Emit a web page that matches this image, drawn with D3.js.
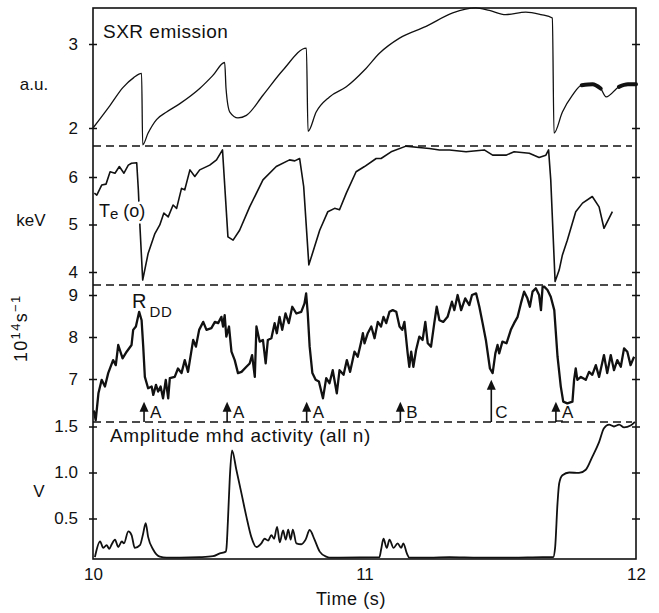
<!DOCTYPE html>
<html>
<head>
<meta charset="utf-8">
<script src="https://cdn.jsdelivr.net/npm/d3@7"></script>
<style>
  body { margin: 0; background: #fff; }
  svg text { font-family: "Liberation Sans", Arial, Helvetica, sans-serif; fill: #111; }
</style>
</head>
<body>
<svg id="chart" width="659" height="613"></svg>
<script>
"use strict";

// time axis
var timeTicks = [10, 11, 12];

// soft x-ray emission (a.u.)
var sxrTicks = [2, 3];
var sxr = [
  [10.000, 2.00], [10.063, 2.27], [10.110, 2.48], [10.150, 2.60], [10.179, 2.65],
  [10.183, 1.80], [10.203, 1.94], [10.234, 2.10], [10.271, 2.19], [10.320, 2.29],
  [10.393, 2.47], [10.440, 2.62], [10.485, 2.78], [10.490, 2.47], [10.504, 2.19],
  [10.534, 2.12], [10.565, 2.15], [10.626, 2.39], [10.700, 2.69], [10.786, 2.95],
  [10.792, 1.96], [10.822, 2.19], [10.871, 2.37], [10.933, 2.49], [11.000, 2.69],
  [11.055, 2.89], [11.129, 3.07], [11.227, 3.21], [11.325, 3.37], [11.410, 3.43],
  [11.460, 3.40], [11.520, 3.35], [11.594, 3.38], [11.650, 3.35], [11.692, 3.31],
  [11.698, 1.94], [11.729, 2.19], [11.766, 2.39], [11.800, 2.51], [11.840, 2.52],
  [11.870, 2.47], [11.890, 2.37], [11.937, 2.49], [11.970, 2.52], [12.000, 2.52]
];
// stretches where the SXR trace is a thick noisy band
var sxrBands = [[11.80, 11.87], [11.937, 12.0]];

// central electron temperature (keV)
var teTicks = [4, 5, 6];
var te = [
  [10.005, 5.66], [10.014, 5.62], [10.032, 5.83], [10.048, 5.85], [10.063, 6.11],
  [10.081, 6.08], [10.097, 6.22], [10.114, 6.08], [10.130, 6.25], [10.142, 6.29],
  [10.161, 6.30], [10.167, 5.73], [10.173, 4.95], [10.183, 3.83], [10.203, 4.39],
  [10.228, 4.81], [10.246, 4.99], [10.261, 5.24], [10.277, 5.16], [10.295, 5.41],
  [10.308, 5.34], [10.326, 5.76], [10.338, 5.73], [10.357, 6.15], [10.375, 6.01],
  [10.393, 6.15], [10.430, 6.25], [10.455, 6.36], [10.477, 6.57], [10.497, 4.74],
  [10.516, 4.67], [10.540, 4.88], [10.577, 5.37], [10.626, 5.94], [10.675, 6.22],
  [10.724, 6.36], [10.743, 6.34], [10.761, 6.39], [10.776, 5.80], [10.795, 4.15],
  [10.816, 4.53], [10.835, 4.88], [10.865, 5.27], [10.890, 5.34], [10.908, 5.31],
  [10.933, 5.66], [10.969, 6.11], [11.000, 6.22], [11.043, 6.39], [11.061, 6.39],
  [11.098, 6.53], [11.153, 6.65], [11.200, 6.62], [11.239, 6.60], [11.276, 6.57],
  [11.313, 6.57], [11.374, 6.53], [11.441, 6.57], [11.472, 6.46], [11.521, 6.46],
  [11.551, 6.53], [11.607, 6.50], [11.643, 6.41], [11.668, 6.46], [11.678, 6.57],
  [11.686, 5.94], [11.702, 3.80], [11.717, 4.04], [11.729, 4.36], [11.747, 4.67],
  [11.778, 5.27], [11.803, 5.45], [11.839, 5.59], [11.864, 5.37], [11.882, 4.92],
  [11.913, 5.27]
];

// D-D neutron rate (10^14 s^-1)
var rddTicks = [7, 8, 9];
var rdd = [
  [10.003, 6.25], [10.010, 6.02], [10.020, 6.66], [10.032, 6.98], [10.044, 6.82],
  [10.056, 7.14], [10.074, 7.45], [10.084, 7.33], [10.093, 7.81], [10.109, 7.49],
  [10.124, 7.65], [10.142, 7.81], [10.148, 8.17], [10.158, 8.25], [10.170, 8.60],
  [10.179, 8.40], [10.185, 7.77], [10.191, 7.05], [10.203, 6.78], [10.216, 6.82],
  [10.222, 6.62], [10.232, 6.86], [10.240, 6.70], [10.249, 6.82], [10.258, 6.54],
  [10.268, 6.98], [10.277, 6.54], [10.283, 7.02], [10.301, 7.05], [10.313, 7.25],
  [10.326, 7.14], [10.338, 7.45], [10.350, 7.17], [10.369, 7.93], [10.379, 7.77],
  [10.391, 8.17], [10.406, 8.36], [10.418, 8.17], [10.436, 8.21], [10.449, 8.36],
  [10.461, 8.33], [10.473, 8.48], [10.479, 8.25], [10.485, 8.52], [10.491, 8.01],
  [10.501, 8.25], [10.510, 7.65], [10.522, 7.45], [10.534, 7.14], [10.547, 7.17],
  [10.565, 7.29], [10.577, 7.37], [10.586, 7.57], [10.596, 7.05], [10.602, 8.25],
  [10.614, 7.89], [10.626, 7.93], [10.636, 7.37], [10.644, 7.93], [10.657, 7.97],
  [10.669, 8.33], [10.677, 8.09], [10.687, 8.48], [10.697, 8.17], [10.709, 8.56],
  [10.721, 8.33], [10.734, 8.72], [10.749, 8.56], [10.767, 8.60], [10.779, 8.80],
  [10.785, 9.04], [10.791, 8.56], [10.798, 7.77], [10.808, 7.14], [10.820, 6.98],
  [10.832, 6.94], [10.847, 6.54], [10.859, 7.02], [10.871, 6.90], [10.883, 7.21],
  [10.898, 6.66], [10.908, 7.21], [10.923, 7.10], [10.935, 7.45], [10.947, 7.17],
  [10.963, 7.65], [10.975, 7.53], [10.988, 7.89], [10.994, 8.09], [11.000, 7.85],
  [11.012, 8.09], [11.025, 8.25], [11.037, 7.97], [11.049, 8.36], [11.061, 8.25],
  [11.070, 8.48], [11.080, 8.33], [11.092, 8.60], [11.104, 8.64], [11.117, 8.60],
  [11.129, 8.25], [11.139, 8.17], [11.147, 8.36], [11.159, 7.61], [11.165, 7.29],
  [11.172, 7.65], [11.180, 7.29], [11.190, 7.69], [11.202, 8.01], [11.214, 7.93],
  [11.224, 8.36], [11.233, 7.85], [11.245, 7.77], [11.257, 8.33], [11.266, 8.72],
  [11.276, 8.40], [11.290, 8.36], [11.306, 8.48], [11.322, 8.84], [11.331, 8.64],
  [11.343, 9.00], [11.356, 8.64], [11.371, 8.92], [11.386, 8.76], [11.396, 9.00],
  [11.411, 9.04], [11.423, 8.72], [11.435, 8.33], [11.447, 7.93], [11.462, 7.25],
  [11.472, 7.14], [11.482, 7.61], [11.490, 7.81], [11.496, 7.61], [11.508, 7.89],
  [11.523, 7.85], [11.539, 8.17], [11.551, 8.33], [11.564, 8.48], [11.576, 8.80],
  [11.588, 9.08], [11.600, 8.92], [11.609, 8.72], [11.619, 9.08], [11.631, 9.16],
  [11.643, 9.00], [11.650, 8.64], [11.656, 9.20], [11.662, 9.20], [11.674, 9.12],
  [11.686, 8.96], [11.699, 8.64], [11.711, 7.53], [11.723, 6.82], [11.732, 6.46],
  [11.747, 6.42], [11.766, 6.46], [11.772, 6.98], [11.778, 7.25], [11.784, 6.98],
  [11.797, 7.05], [11.815, 6.98], [11.827, 7.17], [11.839, 7.10], [11.852, 7.33],
  [11.864, 7.05], [11.882, 7.57], [11.894, 7.14], [11.907, 7.57], [11.919, 7.21],
  [11.931, 7.45], [11.944, 7.29], [11.956, 7.73], [11.968, 7.65], [11.980, 7.33],
  [11.993, 7.53]
];

// events marked under the neutron trace
var eventTime  = [10.188, 10.494, 10.787, 11.132, 11.467, 11.705];
var eventLabel = ["A", "A", "A", "B", "C", "A"];
var eventTip   = [6.46, 6.46, 6.46, 6.46, 6.98, 6.46];

// mhd amplitude (V)
var mhdTicks = [0.5, 1.0, 1.5];
var mhd = [
  [10.007, 0.08], [10.026, 0.25], [10.038, 0.18], [10.050, 0.21], [10.060, 0.17],
  [10.069, 0.22], [10.081, 0.27], [10.093, 0.19], [10.106, 0.25], [10.114, 0.23],
  [10.130, 0.36], [10.142, 0.32], [10.154, 0.18], [10.173, 0.21], [10.185, 0.34],
  [10.194, 0.45], [10.203, 0.30], [10.222, 0.16], [10.246, 0.085], [10.271, 0.075],
  [10.320, 0.075], [10.393, 0.08], [10.442, 0.09], [10.467, 0.12], [10.489, 0.14],
  [10.492, 0.19], [10.497, 0.48], [10.504, 0.95], [10.512, 1.24], [10.528, 1.03],
  [10.547, 0.77], [10.565, 0.52], [10.583, 0.30], [10.602, 0.19], [10.620, 0.23],
  [10.632, 0.28], [10.645, 0.26], [10.657, 0.32], [10.667, 0.28], [10.678, 0.41],
  [10.688, 0.24], [10.700, 0.37], [10.710, 0.27], [10.719, 0.38], [10.728, 0.27],
  [10.736, 0.38], [10.749, 0.23], [10.767, 0.22], [10.783, 0.27], [10.798, 0.375],
  [10.816, 0.27], [10.835, 0.14], [10.859, 0.085], [10.871, 0.075], [11.055, 0.08],
  [11.061, 0.16], [11.070, 0.28], [11.082, 0.18], [11.092, 0.27], [11.107, 0.18],
  [11.122, 0.23], [11.135, 0.18], [11.143, 0.23], [11.156, 0.12], [11.165, 0.075],
  [11.239, 0.075], [11.313, 0.08], [11.423, 0.075], [11.545, 0.075], [11.656, 0.08],
  [11.695, 0.08], [11.702, 0.18], [11.711, 0.67], [11.717, 0.88], [11.729, 0.97],
  [11.754, 1.00], [11.790, 0.995], [11.815, 1.03], [11.839, 1.17], [11.864, 1.33],
  [11.882, 1.48], [11.901, 1.52], [11.919, 1.50], [11.938, 1.52], [11.956, 1.49],
  [11.980, 1.51], [11.996, 1.55]
];

var svg = d3.select("#chart");
var x = d3.scaleLinear().domain([10, 12]).range([93, 636]);

var panels = [
  { data: sxr, ticks: sxrTicks, fmt: d3.format("d"), y0: 8, y1: 146, w: 1.3,
    curve: d3.curveMonotoneX, y: d3.scaleLinear().domain([2, 3]).range([128, 44]) },
  { data: te, ticks: teTicks, fmt: d3.format("d"), y0: 146, y1: 285, w: 1.6,
    curve: d3.curveLinear, y: d3.scaleLinear().domain([4, 6]).range([272, 177]) },
  { data: rdd, ticks: rddTicks, fmt: d3.format("d"), y0: 285, y1: 422, w: 2.3,
    curve: d3.curveLinear, y: d3.scaleLinear().domain([7, 9]).range([379, 295]) },
  { data: mhd, ticks: mhdTicks, fmt: d3.format(".1f"), y0: 422, y1: 559, w: 1.8,
    curve: d3.curveMonotoneX, y: d3.scaleLinear().domain([0.5, 1.0]).range([518.5, 472.5]) }
];

var fontSize = "17px";

panels.forEach(function(p, i) {
  // left ticks with labels, crossing the frame line
  var gl = svg.append("g").attr("transform", "translate(" + x(10) + ",0)");
  gl.call(d3.axisLeft(p.y).tickValues(p.ticks).tickFormat(p.fmt).tickSize(4).tickPadding(11));
  gl.append("g").call(d3.axisRight(p.y).tickValues(p.ticks).tickFormat("").tickSize(4));
  // right ticks, no labels
  var gr = svg.append("g").attr("transform", "translate(" + x(12) + ",0)");
  gr.call(d3.axisLeft(p.y).tickValues(p.ticks).tickFormat("").tickSize(4));
  gr.append("g").call(d3.axisRight(p.y).tickValues(p.ticks).tickFormat("").tickSize(4));

  // dashed separator under each upper panel
  if (i < panels.length - 1) {
    svg.append("line")
      .attr("x1", x(10)).attr("x2", x(12) - 4)
      .attr("y1", p.y1).attr("y2", p.y1)
      .attr("stroke", "#111").attr("stroke-width", 1.7)
      .attr("stroke-dasharray", "8,5");
  }

  var line = d3.line()
    .x(function(d) { return x(d[0]); })
    .y(function(d) { return p.y(d[1]); })
    .curve(p.curve);

  svg.append("path")
    .datum(p.data)
    .attr("d", line)
    .attr("fill", "none")
    .attr("stroke", "#111")
    .attr("stroke-width", p.w)
    .attr("stroke-linejoin", "round");

  if (i === 0) {
    sxrBands.forEach(function(b) {
      svg.append("path")
        .datum(p.data.filter(function(d) { return d[0] >= b[0] && d[0] <= b[1]; }))
        .attr("d", line)
        .attr("fill", "none")
        .attr("stroke", "#111")
        .attr("stroke-width", 4)
        .attr("stroke-linecap", "round");
    });
  }
});

svg.selectAll(".tick text").style("font-size", fontSize).attr("fill", "#111");
svg.selectAll(".domain").remove();
svg.selectAll(".tick line").attr("stroke", "#111").attr("stroke-width", 1.5);

// frame
svg.append("rect")
  .attr("x", x(10)).attr("y", 8)
  .attr("width", x(12) - x(10)).attr("height", 559 - 8)
  .attr("fill", "none").attr("stroke", "#111").attr("stroke-width", 1.6);

// time axis labels
var gx = svg.append("g").attr("transform", "translate(0,559)");
gx.call(d3.axisBottom(x).tickValues(timeTicks).tickFormat(d3.format("d")).tickSize(0).tickPadding(9));
gx.select(".domain").remove();
gx.selectAll("text").style("font-size", fontSize).attr("fill", "#111");

svg.append("text").attr("x", 351).attr("y", 605).attr("text-anchor", "middle")
  .style("font-size", "18px").style("letter-spacing", "0.6px").text("Time (s)");

// event arrows under R_DD
var rddY = panels[2].y;
eventTime.forEach(function(t, i) {
  var ax = x(t), tip = rddY(eventTip[i]), base = panels[2].y1;
  svg.append("line")
    .attr("x1", ax).attr("x2", ax).attr("y1", tip + 6).attr("y2", base)
    .attr("stroke", "#111").attr("stroke-width", 1.6);
  svg.append("path")
    .attr("d", "M" + ax + "," + tip + "L" + (ax - 4.5) + "," + (tip + 10) + "L" + (ax + 4.5) + "," + (tip + 10) + "Z")
    .attr("fill", "#111");
  if (i === eventTime.length - 1) {
    svg.append("line")
      .attr("x1", ax).attr("x2", ax + 7).attr("y1", base - 1).attr("y2", base - 1)
      .attr("stroke", "#111").attr("stroke-width", 1.4);
  }
  svg.append("text")
    .attr("x", ax + (eventLabel[i] === "C" ? 4 : 6)).attr("y", 418)
    .style("font-size", fontSize).text(eventLabel[i]);
});

// panel titles and units
svg.append("text").attr("x", 103).attr("y", 38)
  .style("font-size", "19px").style("letter-spacing", "0.5px").text("SXR emission");
svg.append("text").attr("x", 34).attr("y", 90).attr("text-anchor", "middle")
  .style("font-size", fontSize).text("a.u.");

svg.append("text").attr("x", 31).attr("y", 226).attr("text-anchor", "middle")
  .style("font-size", fontSize).text("keV");
// the T_e label masks the trace behind it, as in the print
var teLabel = svg.append("text").attr("x", 99).attr("y", 217).style("font-size", "18px")
  .style("stroke", "#fff").style("stroke-width", "5px").style("paint-order", "stroke")
  .style("stroke-linejoin", "round");
teLabel.append("tspan").text("T");
teLabel.append("tspan").attr("dy", 2).style("font-size", "15px").text("e");
teLabel.append("tspan").attr("dy", -2).attr("dx", 5).text("(o)");

var rLabel = svg.append("text").attr("x", 132).attr("y", 308).style("font-size", "20px");
rLabel.append("tspan").text("R");
rLabel.append("tspan").attr("dx", 3).attr("dy", 9)
  .style("font-size", "15px").style("letter-spacing", "0.8px").text("DD");

var unit = svg.append("text")
  .attr("transform", "translate(27,362) rotate(-90)")
  .style("font-size", "18px").style("letter-spacing", "1.3px");
unit.append("tspan").text("10");
unit.append("tspan").attr("dy", -7).style("font-size", "13px").text("14");
unit.append("tspan").attr("dy", 7).text("s");
unit.append("tspan").attr("dy", -7).style("font-size", "13px").text("\u22121");

svg.append("text").attr("x", 110).attr("y", 442)
  .style("font-size", "19px").style("letter-spacing", "0.6px").text("Amplitude mhd activity (all n)");
svg.append("text").attr("x", 39).attr("y", 497).attr("text-anchor", "middle")
  .style("font-size", fontSize).text("V");
</script>
</body>
</html>
